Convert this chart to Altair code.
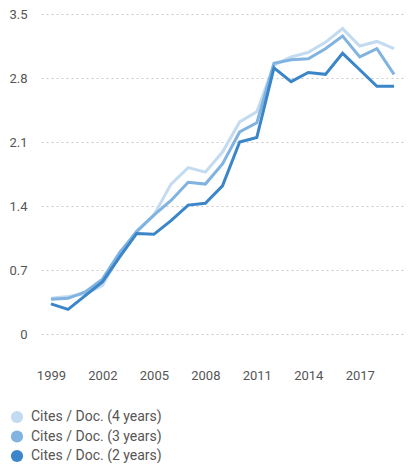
import altair as alt
import pandas as pd

years = list(range(1999, 2020))
cites4 = [0.39, 0.41, 0.44, 0.53, 0.86, 1.13, 1.30, 1.64, 1.82, 1.77, 1.99, 2.32, 2.43, 2.94, 3.03, 3.08, 3.19, 3.34, 3.15, 3.20, 3.12]
cites3 = [0.38, 0.39, 0.46, 0.60, 0.89, 1.12, 1.30, 1.46, 1.66, 1.64, 1.86, 2.21, 2.31, 2.96, 3.00, 3.01, 3.12, 3.26, 3.03, 3.12, 2.84]
cites2 = [0.33, 0.27, 0.42, 0.57, 0.84, 1.10, 1.09, 1.24, 1.41, 1.43, 1.62, 2.10, 2.15, 2.91, 2.76, 2.86, 2.84, 3.07, 2.89, 2.71, 2.71]
series = ["Cites / Doc. (4 years)", "Cites / Doc. (3 years)", "Cites / Doc. (2 years)"]
colors = ["#c3dbf1", "#80b3e0", "#3b86c8"]
x_ticks = [1999, 2002, 2005, 2008, 2011, 2014, 2017]
y_ticks = [0, 0.7, 1.4, 2.1, 2.8, 3.5]

rows = []
for name, vals in zip(series, [cites4, cites3, cites2]):
    for y, v in zip(years, vals):
        rows.append({"Year": y, "Value": v, "Series": name})
df = pd.DataFrame(rows)

x_enc = alt.X("Year:Q", scale=alt.Scale(domain=[1998.42, 2019.58], nice=False, zero=False),
              axis=alt.Axis(values=x_ticks, format="d", title=None, grid=False, domain=False,
                            ticks=False, labelPadding=35, labelFontSize=13, labelColor="#555555",
                            labelFont="Roboto"))
y_enc = alt.Y("Value:Q", scale=alt.Scale(domain=[0, 3.5], nice=False),
              axis=alt.Axis(values=y_ticks, title=None, domain=False, ticks=False,
                            labelExpr="datum.value == 0 ? '0' : format(datum.value, '.1f')",
                            labelPadding=14, labelFontSize=13, labelColor="#555555",
                            labelFont="Roboto", gridDash=[2, 3], gridColor="#c8c8c8"))
legend = alt.Legend(title=None, orient="none", legendX=-31, legendY=396,
                    direction="vertical", symbolType="circle", symbolSize=150,
                    symbolStrokeWidth=0, symbolOpacity=1,
                    labelFontSize=14, labelColor="#555555",
                    labelFont="Roboto", rowPadding=5.5, labelOffset=7)
color_enc = alt.Color("Series:N", scale=alt.Scale(domain=series, range=colors), legend=legend)

points = alt.Chart(df).mark_circle(size=0, opacity=1).encode(x=x_enc, y=y_enc, color=color_enc)
lines = alt.Chart(df).mark_line(strokeWidth=3).encode(
    x=x_enc, y=y_enc, color=color_enc, order=alt.Order("Series:N"),
)

chart = alt.layer(points, lines).properties(
    width=363, height=320, padding={"left": 0, "top": 0, "right": 0, "bottom": 0}
).configure_view(stroke=None)

chart.save("out.html", embed_options={"renderer": "svg", "actions": False})
